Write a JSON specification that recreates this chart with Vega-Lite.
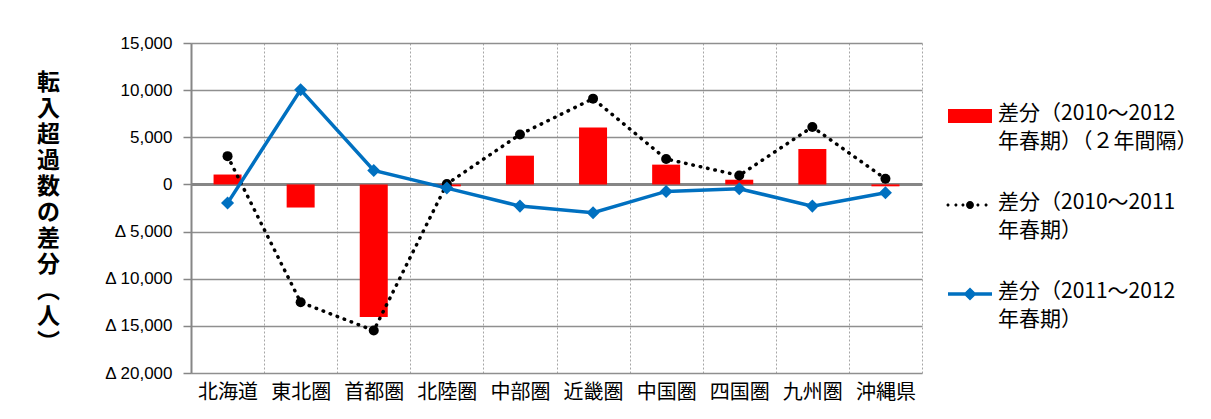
{
  "$schema": "https://vega.github.io/schema/vega-lite/v6.json",
  "width": 731,
  "height": 330,
  "autosize": {"type": "none"},
  "padding": {"left": 191, "top": 43, "right": 289, "bottom": 46},
  "background": "white",
  "config": {
    "view": {"stroke": null},
    "font": "Noto Sans CJK JP"
  },
  "data": {
    "values": [
      {"region": "北海道", "series": "差分（2010～2012年春期）（２年間隔）", "value": 1050},
      {"region": "東北圏", "series": "差分（2010～2012年春期）（２年間隔）", "value": -2450},
      {"region": "首都圏", "series": "差分（2010～2012年春期）（２年間隔）", "value": -14050},
      {"region": "北陸圏", "series": "差分（2010～2012年春期）（２年間隔）", "value": -200},
      {"region": "中部圏", "series": "差分（2010～2012年春期）（２年間隔）", "value": 3050},
      {"region": "近畿圏", "series": "差分（2010～2012年春期）（２年間隔）", "value": 6050},
      {"region": "中国圏", "series": "差分（2010～2012年春期）（２年間隔）", "value": 2100},
      {"region": "四国圏", "series": "差分（2010～2012年春期）（２年間隔）", "value": 500},
      {"region": "九州圏", "series": "差分（2010～2012年春期）（２年間隔）", "value": 3750},
      {"region": "沖縄県", "series": "差分（2010～2012年春期）（２年間隔）", "value": -200},
      {"region": "北海道", "series": "差分（2010～2011年春期）", "value": 3000},
      {"region": "東北圏", "series": "差分（2010～2011年春期）", "value": -12500},
      {"region": "首都圏", "series": "差分（2010～2011年春期）", "value": -15500},
      {"region": "北陸圏", "series": "差分（2010～2011年春期）", "value": 50},
      {"region": "中部圏", "series": "差分（2010～2011年春期）", "value": 5300},
      {"region": "近畿圏", "series": "差分（2010～2011年春期）", "value": 9100},
      {"region": "中国圏", "series": "差分（2010～2011年春期）", "value": 2700},
      {"region": "四国圏", "series": "差分（2010～2011年春期）", "value": 950},
      {"region": "九州圏", "series": "差分（2010～2011年春期）", "value": 6100},
      {"region": "沖縄県", "series": "差分（2010～2011年春期）", "value": 600},
      {"region": "北海道", "series": "差分（2011～2012年春期）", "value": -1980},
      {"region": "東北圏", "series": "差分（2011～2012年春期）", "value": 10040},
      {"region": "首都圏", "series": "差分（2011～2012年春期）", "value": 1480},
      {"region": "北陸圏", "series": "差分（2011～2012年春期）", "value": -390},
      {"region": "中部圏", "series": "差分（2011～2012年春期）", "value": -2300},
      {"region": "近畿圏", "series": "差分（2011～2012年春期）", "value": -3000},
      {"region": "中国圏", "series": "差分（2011～2012年春期）", "value": -740},
      {"region": "四国圏", "series": "差分（2011～2012年春期）", "value": -460},
      {"region": "九州圏", "series": "差分（2011～2012年春期）", "value": -2300},
      {"region": "沖縄県", "series": "差分（2011～2012年春期）", "value": -880}
    ]
  },
  "encoding": {
    "x": {
      "field": "region",
      "type": "nominal",
      "sort": ["北海道", "東北圏", "首都圏", "北陸圏", "中部圏", "近畿圏", "中国圏", "四国圏", "九州圏", "沖縄県"],
      "scale": {"paddingInner": 0, "paddingOuter": 0},
      "axis": {
        "title": null,
        "labelAngle": 0,
        "labelFont": "Noto Sans CJK JP",
        "labelFontSize": 20,
        "labelColor": "black",
        "labelPadding": 9,
        "domain": false,
        "ticks": false,
        "grid": true,
        "tickBand": "extent",
        "gridColor": "#a6a6a6",
        "gridDash": [2, 2],
        "gridWidth": 1,
        "gridOpacity": 1
      }
    },
    "y": {
      "field": "value",
      "type": "quantitative",
      "scale": {"domain": [-20000, 15000], "nice": false, "zero": false},
      "axis": {
        "values": [-20000, -15000, -10000, -5000, 0, 5000, 10000, 15000],
        "labelExpr": "datum.value < 0 ? 'Δ ' + format(-datum.value, ',') : format(datum.value, ',')",
        "labelFont": "Liberation Sans",
        "labelFontSize": 17,
        "labelColor": "black",
        "labelPadding": 11,
        "tickSize": 8,
        "tickColor": "#868686",
        "tickWidth": 1.5,
        "domainColor": "#868686",
        "domainWidth": 2,
        "grid": true,
        "gridColor": "#8f8f8f",
        "gridWidth": 1.5,
        "gridOpacity": 1,
        "title": ["転", "入", "超", "過", "数", "の", "差", "分", "︵", "人", "︶"],
        "titleAngle": 0,
        "titleFont": "Noto Sans CJK JP",
        "titleFontSize": 23,
        "titleFontWeight": "bold",
        "titleColor": "black",
        "titleLineHeight": 26,
        "titleAlign": "center",
        "titleBaseline": "top",
        "titleX": -143,
        "titleY": 28
      }
    }
  },
  "layer": [
    {
      "mark": {"type": "rule", "color": "#868686", "strokeWidth": 2},
      "encoding": {"y": {"datum": 0}, "x": {"value": 0}, "x2": {"value": 731}}
    },
    {
      "transform": [{"filter": "datum.series === '差分（2010～2012年春期）（２年間隔）'"}],
      "mark": {"type": "bar", "size": 28, "color": "#ff0000"}
    },
    {
      "transform": [{"filter": "datum.series === '差分（2010～2011年春期）'"}],
      "mark": {"type": "line", "color": "black", "strokeWidth": 3.5, "strokeDash": [0.5, 7], "strokeCap": "round"}
    },
    {
      "transform": [{"filter": "datum.series === '差分（2010～2011年春期）'"}],
      "mark": {"type": "point", "shape": "circle", "filled": true, "color": "black", "size": 100, "opacity": 1}
    },
    {
      "transform": [{"filter": "datum.series === '差分（2011～2012年春期）'"}],
      "mark": {"type": "line", "color": "#0070c0", "strokeWidth": 3.5}
    },
    {
      "transform": [{"filter": "datum.series === '差分（2011～2012年春期）'"}],
      "mark": {"type": "point", "shape": "diamond", "filled": true, "color": "#0070c0", "size": 170, "opacity": 1}
    },
    {
      "transform": [{"filter": "datum.series === 'legend-only'"}],
      "mark": {"type": "point", "filled": true, "opacity": 1},
      "encoding": {
        "color": {
          "field": "series",
          "type": "nominal",
          "scale": {
            "domain": ["差分（2010～2012年春期）（２年間隔）", "差分（2010～2011年春期）", "差分（2011～2012年春期）"],
            "range": ["#ff0000", "#000000", "#0070c0"]
          },
          "legend": {
            "title": null,
            "orient": "none",
            "legendX": 757,
            "legendY": 51,
            "symbolSize": 1936,
            "symbolStrokeWidth": 0,
            "symbolOpacity": 1,
            "labelFont": "Noto Sans CJK JP",
            "labelFontSize": 21,
            "labelColor": "black",
            "labelLimit": 300,
            "labelOffset": 6,
            "labelBaseline": "top",
            "rowPadding": 31,
            "labelExpr": "[slice(datum.label, 0, indexof(datum.label, '年春期')), slice(datum.label, indexof(datum.label, '年春期'))]",
            "encode": {"labels": {"update": {"lineHeight": {"value": 28}, "dy": {"value": -13}}}}
          }
        },
        "shape": {
          "field": "series",
          "type": "nominal",
          "scale": {
            "domain": ["差分（2010～2012年春期）（２年間隔）", "差分（2010～2011年春期）", "差分（2011～2012年春期）"],
            "range": [
              "M-1,-0.32H1V0.32H-1Z",
              "M-1.07,0A0.07,0.07 0 1,1 -0.93,0A0.07,0.07 0 1,1 -1.07,0Z M-0.71,0A0.07,0.07 0 1,1 -0.57,0A0.07,0.07 0 1,1 -0.71,0Z M-0.39,0A0.07,0.07 0 1,1 -0.25,0A0.07,0.07 0 1,1 -0.39,0Z M-0.18,0A0.18,0.18 0 1,1 0.18,0A0.18,0.18 0 1,1 -0.18,0Z M0.29,0A0.07,0.07 0 1,1 0.43,0A0.07,0.07 0 1,1 0.29,0Z M0.66,0A0.07,0.07 0 1,1 0.8,0A0.07,0.07 0 1,1 0.66,0Z",
              "M-1,-0.08H1V0.08H-1Z M0,-0.3L0.3,0L0,0.3L-0.3,0Z"
            ]
          },
          "legend": {
            "title": null,
            "orient": "none",
            "legendX": 757,
            "legendY": 51,
            "symbolSize": 1936,
            "symbolStrokeWidth": 0,
            "symbolOpacity": 1,
            "labelFont": "Noto Sans CJK JP",
            "labelFontSize": 21,
            "labelColor": "black",
            "labelLimit": 300,
            "labelOffset": 6,
            "labelBaseline": "top",
            "rowPadding": 31,
            "labelExpr": "[slice(datum.label, 0, indexof(datum.label, '年春期')), slice(datum.label, indexof(datum.label, '年春期'))]",
            "encode": {"labels": {"update": {"lineHeight": {"value": 28}, "dy": {"value": -13}}}}
          }
        }
      }
    }
  ]
}
